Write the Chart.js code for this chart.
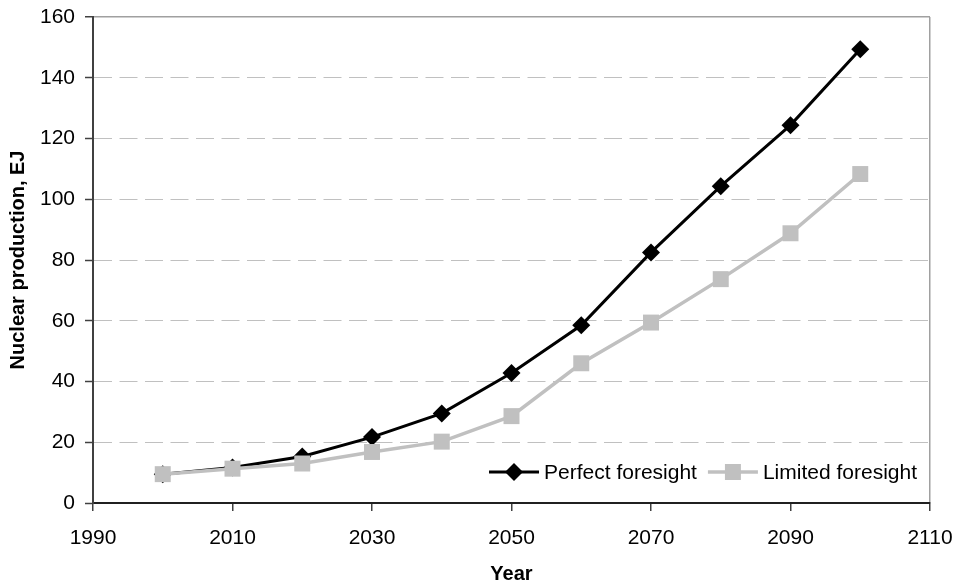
<!DOCTYPE html>
<html>
<head>
<meta charset="utf-8">
<script src="https://cdn.jsdelivr.net/npm/chart.js@4/dist/chart.umd.min.js"></script>
<style>
html,body{margin:0;padding:0;background:#fff;}
#wrap{width:956px;height:586px;position:relative;}
</style>
</head>
<body>
<div id="wrap"><canvas id="c" width="956" height="586"></canvas></div>
<script>
// ---- data ----
const years = [2000, 2010, 2020, 2030, 2040, 2050, 2060, 2070, 2080, 2090, 2100];
const perfectForesight = [9.5, 11.7, 15.3, 21.7, 29.5, 42.8, 58.5, 82.5, 104.3, 124.4, 149.4];
const limitedForesight = [9.5, 11.3, 13.0, 16.8, 20.2, 28.6, 46.0, 59.4, 73.7, 88.8, 108.3];
const seriesNames = ['Perfect foresight', 'Limited foresight'];
const xTickValues = [1990, 2010, 2030, 2050, 2070, 2090, 2110];
const yTickValues = [0, 20, 40, 60, 80, 100, 120, 140, 160];
const xTitle = 'Year';
const yTitle = 'Nuclear production, EJ';

const FAMILY = '"Liberation Sans", Arial, Helvetica, sans-serif';

const toPoints = (xs, ys) => xs.map((x, i) => ({x: x, y: ys[i]}));

const insideLegend = {
  id: 'insideLegend',
  afterDraw(chart) {
    const {ctx, chartArea} = chart;
    ctx.save();
    ctx.font = '21px ' + FAMILY;
    ctx.textBaseline = 'middle';
    ctx.textAlign = 'left';
    const lineLen = 50, gapText = 5, gapItem = 11;
    const items = chart.data.datasets.map(ds => ({ds: ds, w: ctx.measureText(ds.label).width}));
    const total = items.reduce((s, it) => s + lineLen + gapText + it.w, 0) + gapItem * (items.length - 1);
    let x = chartArea.right - 13 - total;
    const y = chartArea.bottom - 31;
    items.forEach(it => {
      const ds = it.ds;
      ctx.strokeStyle = ds.borderColor;
      ctx.lineWidth = ds.borderWidth;
      ctx.setLineDash([]);
      ctx.beginPath();
      ctx.moveTo(x, y);
      ctx.lineTo(x + lineLen, y);
      ctx.stroke();
      ctx.fillStyle = ds.pointBackgroundColor;
      Chart.helpers.drawPoint(ctx, {pointStyle: ds.pointStyle, radius: ds.pointRadius, borderWidth: 0, rotation: 0}, x + lineLen / 2, y);
      ctx.fillStyle = '#000';
      ctx.fillText(ds.label, x + lineLen + gapText, y + 1);
      x += lineLen + gapText + it.w + gapItem;
    });
    ctx.restore();
  }
};

new Chart(document.getElementById('c'), {
  type: 'line',
  data: {
    datasets: [
      {
        label: seriesNames[0],
        data: toPoints(years, perfectForesight),
        borderColor: '#000000',
        backgroundColor: '#000000',
        pointBackgroundColor: '#000000',
        pointBorderWidth: 0,
        borderWidth: 3,
        pointStyle: 'rectRot',
        pointRadius: 9,
        tension: 0,
        order: 1
      },
      {
        label: seriesNames[1],
        data: toPoints(years, limitedForesight),
        borderColor: '#c0c0c0',
        backgroundColor: '#c0c0c0',
        pointBackgroundColor: '#c0c0c0',
        pointBorderWidth: 0,
        borderWidth: 3.5,
        pointStyle: 'rect',
        pointRadius: 11.3,
        tension: 0,
        order: 0
      }
    ]
  },
  options: {
    responsive: false,
    animation: false,
    events: [],
    layout: {padding: {top: 17, right: 26, left: 0, bottom: 0}},
    plugins: {
      legend: {display: false},
      tooltip: {enabled: false}
    },
    scales: {
      x: {
        type: 'linear',
        position: 'bottom',
        min: 1990,
        max: 2110,
        afterBuildTicks: s => { s.ticks = xTickValues.map(v => ({value: v})); },
        afterFit: s => { s.height = 83; s.paddingLeft = 0; s.paddingRight = 0; },
        ticks: {
          font: {family: FAMILY, size: 21},
          color: '#000',
          padding: 15,
          maxRotation: 0,
          autoSkip: false,
          callback: v => String(v)
        },
        grid: {
          color: c => (c.index === xTickValues.length - 1 ? '#a0a0a0' : 'rgba(0,0,0,0)'),
          lineWidth: 1.5,
          tickColor: '#404040',
          tickLength: 8,
          tickWidth: 1.5,
          tickBorderDash: []
        },
        border: {color: '#202020', width: 2},
        title: {
          display: true,
          text: xTitle,
          color: '#000',
          font: {family: FAMILY, size: 20, weight: 'bold'},
          padding: {top: 0, bottom: 0}
        }
      },
      y: {
        type: 'linear',
        position: 'left',
        min: 0,
        max: 160,
        afterBuildTicks: s => { s.ticks = yTickValues.map(v => ({value: v})); },
        afterFit: s => { s.width = 93; s.paddingTop = 0; s.paddingBottom = 0; },
        ticks: {
          font: {family: FAMILY, size: 21},
          color: '#000',
          padding: 10,
          autoSkip: false
        },
        grid: {
          color: c => (c.index === 0 ? 'rgba(0,0,0,0)' : (c.index === yTickValues.length - 1 ? '#a0a0a0' : '#c0c0c0')),
          lineWidth: c => (c.index === yTickValues.length - 1 ? 1.5 : 1),
          tickColor: '#404040',
          tickLength: 8,
          tickWidth: 1.5,
          tickBorderDash: []
        },
        border: {
          color: '#404040',
          width: 2,
          dash: c => (c.index === yTickValues.length - 1 ? [] : [18, 7.5])
        },
        title: {
          display: true,
          text: yTitle,
          color: '#000',
          font: {family: FAMILY, size: 20, weight: 'bold'},
          padding: {top: 6, bottom: 0}
        }
      }
    }
  },
  plugins: [insideLegend]
});
</script>
</body>
</html>
